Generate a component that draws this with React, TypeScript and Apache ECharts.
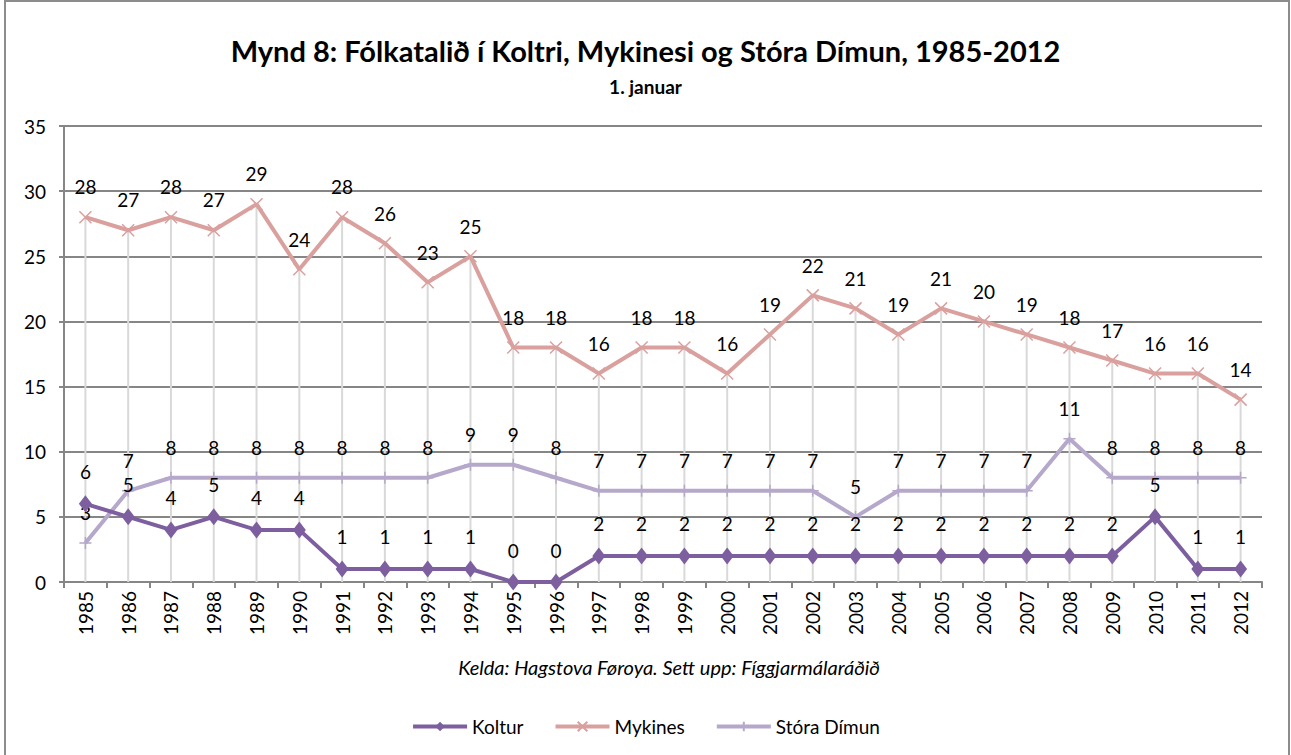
import React, { useEffect, useRef } from "react";
import * as echarts from "echarts";

const years = ["1985","1986","1987","1988","1989","1990","1991","1992","1993","1994","1995","1996","1997","1998","1999","2000","2001","2002","2003","2004","2005","2006","2007","2008","2009","2010","2011","2012"];
const koltur = [6,5,4,5,4,4,1,1,1,1,0,0,2,2,2,2,2,2,2,2,2,2,2,2,2,5,1,1];
const mykines = [28,27,28,27,29,24,28,26,23,25,18,18,16,18,18,16,19,22,21,19,21,20,19,18,17,16,16,14];
const storaDimun = [3,7,8,8,8,8,8,8,8,9,9,8,7,7,7,7,7,7,5,7,7,7,7,11,8,8,8,8];
const yTicks = { min: 0, max: 35, interval: 5 };

const titleText = "Mynd 8: Fólkatalið í Koltri, Mykinesi og Stóra Dímun, 1985-2012";
const subText = "1. januar";
const sourceText = "Kelda: Hagstova Føroya. Sett upp: Fíggjarmálaráðið";

const FONT = "Lato, 'Open Sans', sans-serif";
const C_KOLTUR = "#7d5fa0";
const C_MYK = "#d9a09e";
const C_STORA = "#b5a8ca";

const xSym = "path://M0,0 L10,10 M10,0 L0,10";
const plusSym = "path://M5,0 L5,10 M0,5 L10,5";

export default function App() {
  const ref = useRef<HTMLDivElement>(null);
  useEffect(() => {
    if (!ref.current) return;
    const chart = echarts.init(ref.current, null, { renderer: "svg" });
    const dropMax = years.map((_, i) => Math.max(koltur[i], mykines[i], storaDimun[i]));
    const labelCommon = {
      show: true,
      position: "top" as const,
      distance: 14,
      color: "#000",
      fontSize: 19,
      fontFamily: FONT,
    };
    chart.setOption({
      animation: false,
      backgroundColor: "#fff",
      title: [
        {
          text: titleText,
          left: "center",
          top: 31,
          textStyle: { fontFamily: FONT, fontWeight: "bold", fontSize: 29, color: "#000" },
        },
        {
          text: subText,
          left: "center",
          top: 72,
          textStyle: { fontFamily: FONT, fontWeight: "bold", fontSize: 19, color: "#000" },
        },
        {
          text: sourceText,
          left: 664,
          textAlign: "center",
          top: 652,
          textStyle: { fontFamily: FONT, fontStyle: "italic", fontWeight: "normal", fontSize: 20, color: "#000" },
        },
      ],
      graphic: [
        {
          type: "rect",
          shape: { x: 5, y: 1, width: 1284, height: 770 },
          style: { fill: "none", stroke: "#8c8c8c", lineWidth: 2 },
          silent: true,
        },
      ],
      legend: {
        data: ["Koltur", "Mykines", "Stóra Dímun"],
        bottom: 14,
        left: "center",
        itemWidth: 54,
        itemHeight: 12,
        itemGap: 30,
        lineStyle: { width: 4 },
        textStyle: { fontFamily: FONT, fontSize: 19, color: "#000" },
      },
      grid: { left: 64, right: 29, top: 126, bottom: 173, containLabel: false },
      xAxis: {
        type: "category",
        data: years,
        boundaryGap: true,
        axisLine: { lineStyle: { color: "#868686", width: 2 } },
        axisTick: { show: true, length: 6, lineStyle: { color: "#868686", width: 2 } },
        axisLabel: { rotate: 90, fontFamily: FONT, fontSize: 19, color: "#000", margin: 9 },
        splitLine: { show: false },
      },
      yAxis: {
        type: "value",
        min: yTicks.min,
        max: yTicks.max,
        interval: yTicks.interval,
        axisLine: { show: true, lineStyle: { color: "#868686", width: 2 } },
        axisTick: { show: true, length: 5, lineStyle: { color: "#868686", width: 2 } },
        axisLabel: { fontFamily: FONT, fontSize: 19, color: "#000", margin: 18 },
        splitLine: { show: true, lineStyle: { color: "#868686", width: 2 } },
      },
      series: [
        {
          name: "drop",
          type: "bar",
          data: dropMax,
          barWidth: 2,
          barGap: "-100%",
          itemStyle: { color: "#d9d9d9" },
          silent: true,
          z: 1,
          label: { show: false },
        },
        {
          name: "Koltur",
          type: "line",
          data: koltur,
          symbol: "diamond",
          symbolSize: [13, 17],
          lineStyle: { color: C_KOLTUR, width: 4 },
          itemStyle: { color: C_KOLTUR },
          label: labelCommon,
          z: 5,
        },
        {
          name: "Mykines",
          type: "line",
          data: mykines,
          symbol: xSym,
          symbolSize: 12,
          lineStyle: { color: C_MYK, width: 4 },
          itemStyle: { color: C_MYK, borderColor: C_MYK, borderWidth: 1.5 },
          label: labelCommon,
          z: 4,
        },
        {
          name: "Stóra Dímun",
          type: "line",
          data: storaDimun,
          symbol: plusSym,
          symbolSize: 12,
          lineStyle: { color: C_STORA, width: 4 },
          itemStyle: { color: C_STORA, borderColor: C_STORA, borderWidth: 1.5 },
          label: labelCommon,
          z: 3,
        },
      ],
    });
    return () => chart.dispose();
  }, []);
  return (
    <div
      ref={ref}
      style={{ position: "fixed", left: 0, top: 0, width: 1291, height: 755 }}
    />
  );
}
